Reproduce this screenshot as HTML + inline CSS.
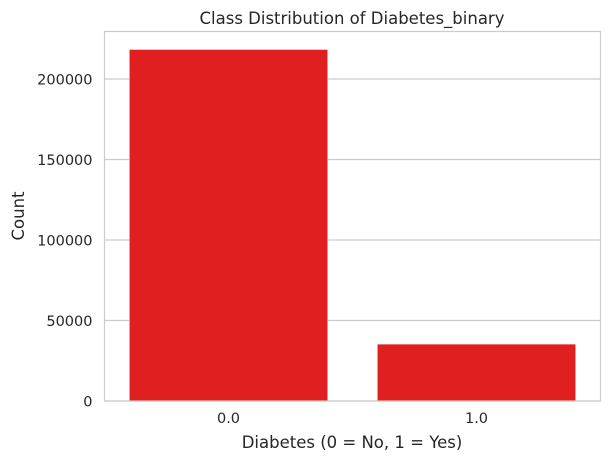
<!DOCTYPE html>
<html><head><meta charset="utf-8"><style>
body{margin:0;background:#fff;}
svg text{font-family:"DejaVu Sans","Liberation Sans",sans-serif;fill:#262626;}
</style></head><body>
<svg id="chart" width="610" height="463">
<text x="352" y="24" text-anchor="middle" font-size="16.5">Class Distribution of Diabetes_binary</text>
<g id="grid"></g>
<g id="bars"></g>
<rect x="104.5" y="31.5" width="496" height="369.5" fill="none" stroke="#cccccc" stroke-width="1.2"/>
<g id="ticks"></g>
<text x="352" y="448" text-anchor="middle" font-size="16.5">Diabetes (0 = No, 1 = Yes)</text>
<text transform="translate(24,216) rotate(-90)" text-anchor="middle" font-size="16.5">Count</text>
</svg>
<script>
const categories=["0.0","1.0"];
const counts=[218334,35346];
const yTicks=[0,50000,100000,150000,200000];
const ns="http://www.w3.org/2000/svg";
const L=104.5,R=600.5,B=401,pxPer=80.5/50000;
const y=v=>B-v*pxPer;
const step=(R-L)/categories.length;
const xc=i=>L+step*(i+0.5);
const grid=document.getElementById('grid'),bars=document.getElementById('bars'),ticks=document.getElementById('ticks');
function mk(t,a,p){const e=document.createElementNS(ns,t);for(const k in a)e.setAttribute(k,a[k]);p.appendChild(e);return e;}
yTicks.forEach(v=>{
 const l=mk('line',{x1:L,x2:R,y1:y(v),y2:y(v),stroke:'#cccccc','stroke-width':1.2},grid);
 
 
 const t=mk('text',{x:L-12,y:y(v)+5.5,'text-anchor':'end','font-size':14.5},ticks);
 t.textContent=v;
 
 
});
categories.forEach((c,i)=>{
 const w=step*0.8;
 const r=mk('rect',{x:xc(i)-w/2,y:y(counts[i]),width:w,height:B-y(counts[i]),fill:'#e02020',stroke:'#ffffff','stroke-width':0.5},bars);
 
 
 const t=mk('text',{x:xc(i),y:B+22,'text-anchor':'middle','font-size':14.5},ticks);
 t.textContent=c;
 
 
});
</script>
</body></html>
